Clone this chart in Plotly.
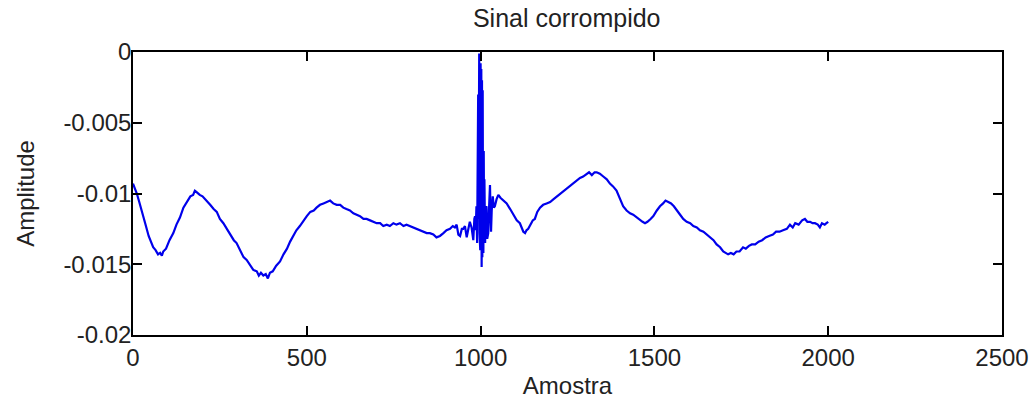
import plotly.graph_objects as go

samples = [0, 5, 11, 18, 25, 35, 45, 52, 58, 65, 72, 78, 83, 87, 95, 105, 116, 125, 135, 145,
           155, 165, 173, 178, 183, 192, 200, 212, 222, 232, 241, 250, 260, 270, 280, 290, 298,
           308, 318, 327, 337, 346, 356, 362, 368, 375, 382, 388, 394, 402, 412, 423, 433, 443,
           452, 461, 470, 480, 490, 500, 510, 520, 528, 538, 548, 557, 567, 576, 586, 596, 605,
           614, 624, 634, 643, 653, 663, 672, 682, 692, 701, 711, 720, 730, 739, 749, 758, 768,
           778, 787, 797, 806, 816, 826, 835, 845, 854, 864, 873, 883, 893, 902, 912, 920, 926,
           931, 936, 941, 946, 950, 955, 960, 964, 969, 974, 979, 982, 984, 986, 988, 990, 991,
           992, 993, 994, 995, 996, 997, 998, 999, 1000, 1001, 1002, 1003, 1004, 1005, 1006,
           1007, 1008, 1009, 1010, 1011, 1013, 1015, 1017, 1019, 1022, 1024, 1027, 1029, 1030,
           1032, 1035, 1038, 1041, 1046, 1051, 1057, 1065, 1075, 1085, 1094, 1104, 1113, 1118,
           1123, 1128, 1132, 1137, 1142, 1150, 1156, 1163, 1171, 1180, 1190, 1200, 1210, 1220,
           1228, 1238, 1248, 1257, 1267, 1276, 1286, 1295, 1305, 1312, 1320, 1328, 1334, 1343,
           1353, 1363, 1372, 1381, 1391, 1400, 1410, 1420, 1430, 1439, 1449, 1458, 1466, 1473,
           1480, 1489, 1497, 1507, 1516, 1525, 1532, 1540, 1548, 1556, 1564, 1574, 1583, 1593,
           1603, 1612, 1622, 1631, 1641, 1650, 1660, 1670, 1679, 1689, 1698, 1705, 1712, 1720,
           1728, 1736, 1745, 1755, 1763, 1772, 1780, 1790, 1800, 1810, 1820, 1830, 1841, 1850,
           1860, 1870, 1881, 1890, 1898, 1905, 1915, 1925, 1933, 1940, 1948, 1955, 1962, 1970,
           1976, 1982, 1990, 1995, 2000]

amplitude = [-0.0093, -0.0096, -0.0100, -0.0106, -0.0113, -0.0121, -0.0130, -0.0134, -0.0138,
             -0.0140, -0.0143, -0.0142, -0.0144, -0.0141, -0.0139, -0.0133, -0.0128, -0.0122,
             -0.0117, -0.0110, -0.0106, -0.0102, -0.0101, -0.0098, -0.0099, -0.0101, -0.0102,
             -0.0105, -0.0108, -0.0111, -0.0113, -0.0118, -0.0121, -0.0125, -0.0129, -0.0133,
             -0.0135, -0.0140, -0.0145, -0.0147, -0.0151, -0.0154, -0.0155, -0.0158, -0.0156,
             -0.0158, -0.0157, -0.0160, -0.0156, -0.0155, -0.0151, -0.0148, -0.0143, -0.0139,
             -0.0134, -0.0130, -0.0126, -0.0123, -0.0119, -0.0116, -0.0113, -0.0112, -0.0110,
             -0.0108, -0.0107, -0.0106, -0.0105, -0.0107, -0.0108, -0.0108, -0.0110, -0.0111,
             -0.0112, -0.0114, -0.0115, -0.0116, -0.0118, -0.0118, -0.0119, -0.0120, -0.0121,
             -0.0121, -0.0123, -0.0122, -0.0123, -0.0121, -0.0122, -0.0121, -0.0123, -0.0122,
             -0.0123, -0.0124, -0.0125, -0.0126, -0.0127, -0.0128, -0.0128, -0.0129, -0.0131,
             -0.0130, -0.0128, -0.0126, -0.0125, -0.0123, -0.0124, -0.0122, -0.0129, -0.0130,
             -0.0125, -0.0125, -0.0123, -0.0131, -0.0126, -0.0120, -0.0124, -0.0133, -0.0118,
             -0.0116, -0.0126, -0.0109, -0.0135, -0.0060, -0.0122, -0.0030, -0.0118, -0.0008,
             -0.0001, -0.0128, -0.0015, -0.0140, -0.0008, -0.0138, -0.0012, -0.0152, -0.0020,
             -0.0145, -0.0027, -0.0130, -0.0142, -0.0070, -0.0125, -0.0090, -0.0135, -0.0110,
             -0.0109, -0.0132, -0.0128, -0.0112, -0.0094, -0.0118, -0.0127, -0.0112, -0.0102,
             -0.0110, -0.0109, -0.0104, -0.0101, -0.0103, -0.0105, -0.0107, -0.0111, -0.0115,
             -0.0119, -0.0121, -0.0124, -0.0127, -0.0128, -0.0126, -0.0125, -0.0123, -0.0119,
             -0.0118, -0.0113, -0.0110, -0.0108, -0.0107, -0.0106, -0.0104, -0.0102, -0.0101,
             -0.0099, -0.0097, -0.0095, -0.0093, -0.0091, -0.0089, -0.0088, -0.0086, -0.0085,
             -0.0087, -0.0085, -0.0085, -0.0086, -0.0088, -0.0090, -0.0093, -0.0095, -0.0098,
             -0.0103, -0.0109, -0.0112, -0.0114, -0.0115, -0.0117, -0.0119, -0.0120, -0.0121,
             -0.0120, -0.0118, -0.0116, -0.0112, -0.0109, -0.0107, -0.0105, -0.0106, -0.0107,
             -0.0109, -0.0112, -0.0115, -0.0118, -0.0120, -0.0121, -0.0123, -0.0124, -0.0126,
             -0.0127, -0.0129, -0.0131, -0.0133, -0.0136, -0.0138, -0.0141, -0.0142, -0.0143,
             -0.0142, -0.0143, -0.0141, -0.0141, -0.0138, -0.0139, -0.0137, -0.0136, -0.0136,
             -0.0134, -0.0133, -0.0131, -0.0130, -0.0129, -0.0127, -0.0127, -0.0126, -0.0125,
             -0.0122, -0.0124, -0.0121, -0.0122, -0.0119, -0.0118, -0.0120, -0.0120, -0.0121,
             -0.0121, -0.0122, -0.0124, -0.0121, -0.0122, -0.0121, -0.0120]

x_ticks = [0, 500, 1000, 1500, 2000, 2500]
x_tick_labels = ["0", "500", "1000", "1500", "2000", "2500"]
y_ticks = [0, -0.005, -0.01, -0.015, -0.02]
y_tick_labels = ["0", "-0.005", "-0.01", "-0.015", "-0.02"]

font = dict(family="Liberation Sans, Arial, sans-serif", size=24, color="#222222")
title_font = dict(family="Liberation Sans, Arial, sans-serif", size=25, color="#222222")

fig = go.Figure()
fig.add_trace(go.Scatter(x=samples, y=amplitude, mode="lines",
                         line=dict(color="rgb(0,0,235)", width=2.2), showlegend=False))

axis_common = dict(showline=True, linecolor="black", linewidth=1.5, mirror="ticks",
                   ticks="inside", ticklen=9, tickwidth=1.5, tickcolor="black",
                   showgrid=False, zeroline=False, tickfont=font, automargin=False)

fig.update_layout(
    width=1033, height=409,
    margin=dict(l=133, r=31, t=52, b=74, autoexpand=False),
    paper_bgcolor="white", plot_bgcolor="white",
    title=dict(text="Sinal corrompido", x=0.5486, xanchor="center", y=0.955, yanchor="middle",
               font=title_font),
    xaxis=dict(range=[0, 2500], tickvals=x_ticks, ticktext=x_tick_labels,
               title=dict(text="Amostra", font=font, standoff=8), **axis_common),
    yaxis=dict(range=[-0.02, 0], tickvals=y_ticks, ticktext=y_tick_labels, ticklabelstandoff=-5,
               title=dict(text="Amplitude", font=font, standoff=22), **axis_common),
)

fig.write_html("out.html")
